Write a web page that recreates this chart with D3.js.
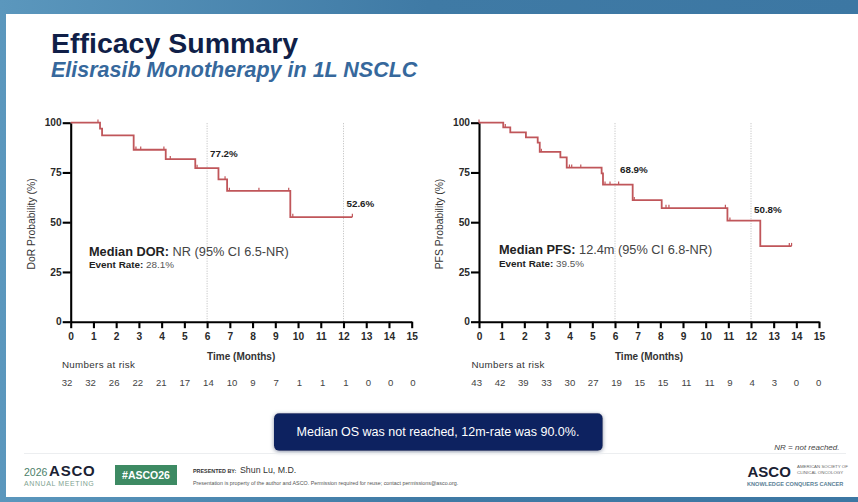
<!DOCTYPE html>
<html>
<head>
<meta charset="utf-8">
<script src="https://cdn.jsdelivr.net/npm/d3@7"></script>
<style>
  html, body { margin: 0; padding: 0; background: #fff; }
  svg { display: block; }
  text { font-family: "Liberation Sans", Arial, sans-serif; }
</style>
</head>
<body>
<svg width="858" height="502"></svg>
<script>
// Kaplan-Meier steps: [month, probability after that month]
const dorTimes = [0, 1.29, 1.38, 2.77, 4.18, 5.48, 6.5, 6.88, 9.66, 12.39];
const dorProbs = [100, 97, 93.6, 86.4, 81.7, 77.2, 71.5, 65.7, 52.6, 52.6];
const dorCensorTimes = [1.2, 2.87, 3.08, 4.1, 4.38, 5.56, 6.79, 6.98, 8.28, 9.59, 9.77, 12.39];
const dorAtRisk = [32, 32, 26, 22, 21, 17, 14, 10, 9, 7, 1, 1, 1, 0, 0, 0];

const pfsTimes = [0, 1.07, 1.38, 2.07, 2.59, 2.68, 3.59, 3.87, 5.41, 5.47, 6.78, 8.06, 10.96, 12.41, 13.79];
const pfsProbs = [100, 97.7, 95.1, 92.6, 90, 85.3, 82.6, 77.4, 74.5, 68.9, 61.1, 57.1, 50.8, 38, 38];
const pfsCensorTimes = [0, 1.16, 2.75, 3.99, 4.09, 4.49, 5.56, 5.78, 6.16, 6.85, 8.25, 8.38, 10.87, 11.07, 13.69, 13.79];
const pfsAtRisk = [43, 42, 39, 33, 30, 27, 19, 15, 15, 11, 11, 9, 4, 3, 0, 0];

const xTickValues = d3.range(0, 16);
const yTickValues = [0, 25, 50, 75, 100];
const landmarkMonths = [6, 12];

const svg = d3.select('svg');
const curveRed = '#c0565a';

// slide background
const defs = svg.append('defs');
const grad = defs.append('linearGradient').attr('id', 'frame').attr('x1', 0).attr('x2', 1).attr('y1', 0).attr('y2', 0);
grad.append('stop').attr('offset', 0).attr('stop-color', '#5b97bd');
grad.append('stop').attr('offset', 0.5).attr('stop-color', '#3f7aa5');
grad.append('stop').attr('offset', 1).attr('stop-color', '#3c77a3');
const shadow = defs.append('filter').attr('id', 'shadow').attr('x', '-5%').attr('y', '-20%').attr('width', '110%').attr('height', '150%');
shadow.append('feDropShadow').attr('dx', 0).attr('dy', 1).attr('stdDeviation', 2).attr('flood-color', '#8a93a8');

svg.append('rect').attr('width', 858).attr('height', 502).attr('fill', 'url(#frame)');
svg.append('rect').attr('x', 6).attr('y', 14).attr('width', 852).attr('height', 483).attr('fill', '#fff');

svg.append('text').attr('x', 51).attr('y', 52.5).attr('font-size', 28.5).attr('font-weight', 700)
  .attr('fill', '#101f48').text('Efficacy Summary');
svg.append('text').attr('x', 51).attr('y', 76.5).attr('font-size', 21.5).attr('font-weight', 700)
  .attr('font-style', 'italic').attr('fill', '#36689c').text('Elisrasib Monotherapy in 1L NSCLC');

function drawPanel(opts) {
  const x = d3.scaleLinear().domain([0, 15]).range(opts.xRange);
  const y = d3.scaleLinear().domain([0, 100]).range([321.7, 122.7]);
  const riskX = d3.scaleLinear().domain(opts.riskDomain).range(opts.riskRange);
  const g = svg.append('g');

  g.selectAll('line.landmark').data(landmarkMonths).enter().append('line')
    .attr('class', 'landmark')
    .attr('x1', d => x(d)).attr('x2', d => x(d))
    .attr('y1', y(0)).attr('y2', y(100))
    .attr('stroke', '#aaa').attr('stroke-width', 0.8).attr('stroke-dasharray', '1 1.5');

  const xAxis = d3.axisBottom(x).tickValues(xTickValues).tickSize(6.5).tickSizeOuter(0).tickPadding(5).tickFormat(d3.format('d'));
  const yAxis = d3.axisLeft(y).tickValues(yTickValues).tickSize(8).tickSizeOuter(0).tickPadding(1);
  [g.append('g').attr('transform', `translate(0,${y(0)})`).call(xAxis),
   g.append('g').attr('transform', `translate(${x(0)},0)`).call(yAxis)].forEach(a => {
    a.selectAll('path,line').attr('stroke', '#000').attr('stroke-width', 2.1);
    a.selectAll('text').attr('font-size', 10.2).attr('font-weight', 700).attr('fill', '#2a2a2a')
      .style('font-family', '"Liberation Sans", Arial, sans-serif');
  });

  const points = opts.times.map((t, i) => [t, opts.probs[i]]);
  const line = d3.line().curve(d3.curveStepAfter).x(d => x(d[0])).y(d => y(d[1]));
  g.append('path').attr('d', line(points)).attr('fill', 'none')
    .attr('stroke', curveRed).attr('stroke-width', 1.8);

  const probAt = t => opts.probs[Math.max(0, d3.bisectRight(opts.times, t) - 1)];
  g.selectAll('line.censor').data(opts.censors).enter().append('line')
    .attr('class', 'censor')
    .attr('x1', d => x(d)).attr('x2', d => x(d))
    .attr('y1', d => y(probAt(d)) - 3.2).attr('y2', d => y(probAt(d)))
    .attr('stroke', curveRed).attr('stroke-width', 1.2);

  g.append('text').attr('transform', `translate(${opts.xRange[0] - 36},224) rotate(-90)`)
    .attr('text-anchor', 'middle').attr('font-size', 10.4).attr('fill', '#333')
    .text(opts.yLabel);
  g.append('text').attr('x', x(7.5)).attr('y', 359.5).attr('text-anchor', 'middle')
    .attr('font-size', 10).attr('font-weight', 700).attr('fill', '#333').text('Time (Months)');

  g.append('text').attr('x', opts.riskTitleX).attr('y', 368).attr('font-size', 9.8)
    .attr('letter-spacing', 0.3).attr('fill', '#333').text('Numbers at risk');
  g.selectAll('text.risk').data(opts.atRisk).enter().append('text')
    .attr('class', 'risk')
    .attr('x', (d, i) => riskX(i)).attr('y', 386).attr('text-anchor', 'middle')
    .attr('font-size', 9.6).attr('fill', '#444').text(d => d);

  opts.notes.forEach(n => g.append('text').attr('x', n.x).attr('y', n.y).attr('font-size', 9.8)
    .attr('font-weight', 700).attr('fill', '#222').text(n.text));

  const t1 = g.append('text').attr('x', opts.medianX).attr('y', opts.medianY).attr('font-size', 12.75).attr('fill', '#444');
  t1.append('tspan').attr('font-weight', 700).attr('fill', '#222').text(opts.medianLabel);
  t1.append('tspan').text(opts.medianText);
  const t2 = g.append('text').attr('x', opts.medianX).attr('y', opts.medianY + 12.6).attr('font-size', 9.9).attr('fill', '#555');
  t2.append('tspan').attr('font-weight', 700).attr('fill', '#222').text('Event Rate:');
  t2.append('tspan').text(opts.eventText);
}

drawPanel({
  xRange: [70.7, 411.7], times: dorTimes, probs: dorProbs, censors: dorCensorTimes, atRisk: dorAtRisk,
  yLabel: 'DoR Probability (%)', riskTitleX: 62,
  riskDomain: [0, 7, 8, 12, 15], riskRange: [67, 232, 253, 346, 413],
  notes: [{ x: 210, y: 157, text: '77.2%' }, { x: 346.5, y: 207, text: '52.6%' }],
  medianX: 89, medianY: 255.7, medianLabel: 'Median DOR:', medianText: ' NR (95% CI 6.5-NR)', eventText: ' 28.1%'
});
drawPanel({
  xRange: [479, 819], times: pfsTimes, probs: pfsProbs, censors: pfsCensorTimes, atRisk: pfsAtRisk,
  yLabel: 'PFS Probability (%)', riskTitleX: 471.5,
  riskDomain: [0, 10, 11, 15], riskRange: [476.7, 709.7, 730, 818.7],
  notes: [{ x: 620, y: 173, text: '68.9%' }, { x: 754, y: 213, text: '50.8%' }],
  medianX: 499, medianY: 254, medianLabel: 'Median PFS:', medianText: ' 12.4m (95% CI 6.8-NR)', eventText: ' 39.5%'
});

// callout
svg.append('rect').attr('x', 274).attr('y', 413.3).attr('width', 328.7).attr('height', 37.4).attr('rx', 5)
  .attr('fill', '#0d2461').attr('filter', 'url(#shadow)');
svg.append('text').attr('x', 438).attr('y', 436).attr('text-anchor', 'middle').attr('font-size', 12.5)
  .attr('fill', '#fff').text('Median OS was not reached, 12m-rate was 90.0%.');

// footer
svg.append('text').attr('x', 839.5).attr('y', 450.3).attr('text-anchor', 'end').attr('font-size', 8)
  .attr('font-style', 'italic').attr('fill', '#444').text('NR = not reached.');
svg.append('line').attr('x1', 24).attr('x2', 846).attr('y1', 453.5).attr('y2', 453.5).attr('stroke', '#eceef0');

svg.append('text').attr('x', 24).attr('y', 476).attr('font-size', 10.5).attr('fill', '#4c7f6a').text('2026');
svg.append('text').attr('x', 49).attr('y', 476).attr('font-size', 15).attr('font-weight', 700)
  .attr('letter-spacing', 0.8).attr('fill', '#1a2233').text('ASCO');
svg.append('text').attr('x', 24).attr('y', 486).attr('font-size', 7).attr('letter-spacing', 0.6)
  .attr('fill', '#7fa391').text('ANNUAL MEETING');
svg.append('rect').attr('x', 115).attr('y', 465).attr('width', 62).attr('height', 20).attr('fill', '#3d8a63');
svg.append('text').attr('x', 146).attr('y', 479).attr('text-anchor', 'middle').attr('font-size', 10.5)
  .attr('font-weight', 700).attr('fill', '#fff').text('#ASCO26');
svg.append('text').attr('x', 193).attr('y', 472.7).attr('font-size', 5.4).attr('font-weight', 700).attr('fill', '#333').text('PRESENTED BY:');
svg.append('text').attr('x', 240).attr('y', 472.7).attr('font-size', 8.8).attr('fill', '#333').text('Shun Lu, M.D.');
svg.append('text').attr('x', 193).attr('y', 484.7).attr('font-size', 5.35).attr('fill', '#555')
  .text('Presentation is property of the author and ASCO. Permission required for reuse; contact permissions@asco.org.');

svg.append('text').attr('x', 747.5).attr('y', 477).attr('font-size', 15).attr('font-weight', 700)
  .attr('fill', '#1a2233').text('ASCO');
svg.append('text').attr('x', 797).attr('y', 468.4).attr('font-size', 4.4).attr('fill', '#666').text('AMERICAN SOCIETY OF');
svg.append('text').attr('x', 797).attr('y', 474.2).attr('font-size', 4.4).attr('fill', '#666').text('CLINICAL ONCOLOGY');
svg.append('text').attr('x', 747).attr('y', 485.5).attr('font-size', 5.6).attr('font-weight', 700).attr('fill', '#5b7f96').text('KNOWLEDGE CONQUERS CANCER');
</script>
</body>
</html>
